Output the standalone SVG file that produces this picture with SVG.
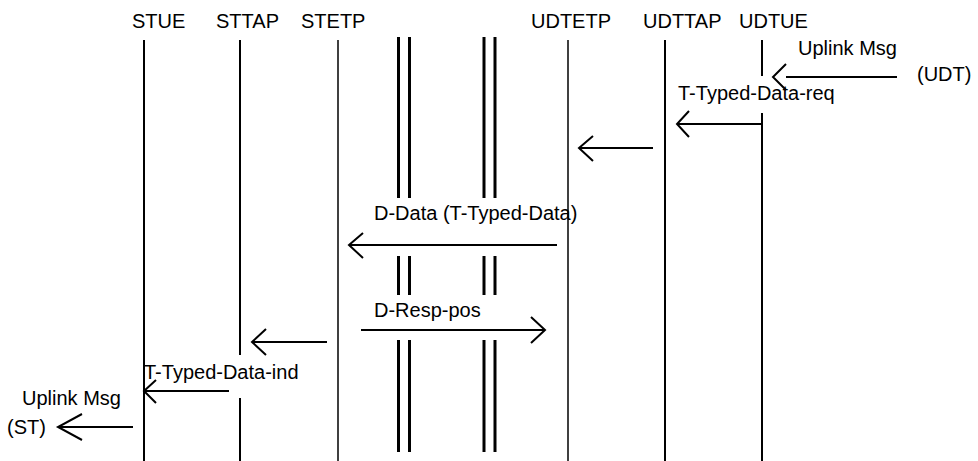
<svg xmlns="http://www.w3.org/2000/svg" width="978" height="461" viewBox="0 0 978 461">
  <style>
    text { font-family: "Liberation Sans", Arial, sans-serif; font-size: 20px; fill: #000; }
    .life { stroke: #000; fill: none; }
    .thin { stroke-width: 1.5; }
    .mid { stroke-width: 2; }
    .bar { stroke: #000; stroke-width: 3; fill: none; }
    .msg { stroke: #000; stroke-width: 2; fill: none; }
  </style>
  <rect width="978" height="461" fill="#fff"/>

  <!-- lifelines with their headings -->
  <g id="STUE">
    <text x="132" y="28">STUE</text>
    <line class="life mid" x1="144" y1="40" x2="144" y2="461"/>
  </g>
  <g id="STTAP">
    <text x="216" y="28">STTAP</text>
    <path class="life mid" d="M240,40 V355 M240,398 V461"/>
  </g>
  <g id="STETP">
    <text x="301" y="28">STETP</text>
    <line class="life thin" x1="338" y1="40" x2="338" y2="461"/>
  </g>
  <g id="UDTETP">
    <text x="531" y="28">UDTETP</text>
    <line class="life thin" x1="568" y1="40" x2="568" y2="461"/>
  </g>
  <g id="UDTTAP">
    <text x="643" y="28">UDTTAP</text>
    <line class="life mid" x1="665" y1="40" x2="665" y2="461"/>
  </g>
  <g id="UDTUE">
    <text x="739" y="28">UDTUE</text>
    <path class="life mid" d="M762,40 V76 M762,113 V461"/>
  </g>

  <!-- network break markers (double bars) -->
  <g id="break-left">
    <path class="bar" d="M398.5,37 V198 M398.5,256 V295 M398.5,340 V452"/>
    <path class="bar" d="M409.5,37 V198 M409.5,256 V295 M409.5,340 V452"/>
  </g>
  <g id="break-right">
    <path class="bar" d="M484,37 V198 M484,256 V295 M484,340 V452"/>
    <path class="bar" d="M495,37 V198 M495,256 V295 M495,340 V452"/>
  </g>

  <!-- messages -->
  <g id="connectors">
    <path class="msg" d="M897,77 H786 M786,64 L773,77 L786,90"/>
    <path class="msg" d="M762,124 H677 M689,111 L677,124 L689,137"/>
    <path class="msg" d="M653,148 H579 M593,136 L579,148 L593,161"/>
    <path class="msg" d="M557,245 H349 M363,233 L349,245 L363,258"/>
    <path class="msg" d="M361,330 H545 M531,317 L545,330 L531,343"/>
    <path class="msg" d="M327,342 H252 M266,329 L252,342 L266,355"/>
    <path class="msg" d="M229,391 H144 M156,380 L144,391 L156,403"/>
    <path class="msg" d="M133,427 H58 M82,414 L58,427 L82,440"/>
  </g>

  <!-- message labels -->
  <g id="labels">
    <text x="798" y="55">Uplink Msg</text>
    <text x="917" y="81">(UDT)</text>
    <text x="678" y="100">T-Typed-Data-req</text>
    <text x="374" y="220">D-Data (T-Typed-Data)</text>
    <text x="374" y="317">D-Resp-pos</text>
    <text x="144" y="379">T-Typed-Data-ind</text>
    <text x="22" y="405">Uplink Msg</text>
    <text x="7" y="434">(ST)</text>
  </g>
</svg>
